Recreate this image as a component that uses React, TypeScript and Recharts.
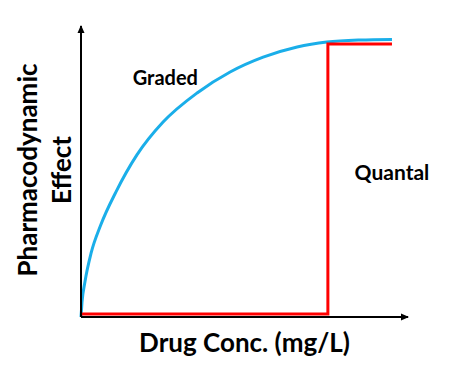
import { LineChart, Line, XAxis, YAxis, ReferenceDot } from "recharts";

// drug concentration (arbitrary units, 0-10) vs effect (% of max)
const gradedConc = [0, 0.03, 0.12, 0.31, 0.6, 1.07, 1.71, 2.51, 3.55, 4.56, 5.57, 6.61, 7.52, 8.53, 9.51];
const gradedEffect = [0, 5, 12, 22, 31.5, 43, 55.7, 67, 77, 84.2, 89.3, 92.8, 94.5, 95.2, 95.4];

const quantalConc = [0, 7.55, 7.55, 9.51];
const quantalEffect = [1, 1, 93.8, 93.8];

const xMax = 10;
const yMax = 100;

const gradedData = gradedConc.map((x, i) => ({ x, y: gradedEffect[i] }));
const quantalData = quantalConc.map((x, i) => ({ x, y: quantalEffect[i] }));

const FONT = "Lato, 'Open Sans', sans-serif";

function XLabel(props: any) {
  const { viewBox } = props;
  if (!viewBox) return null;
  return (
    <text
      x={viewBox.x + viewBox.width / 2}
      y={viewBox.y + 35}
      textAnchor="middle"
      fontFamily={FONT}
      fontWeight={700}
      fontSize={26}
      fill="#000"
    >
      Drug Conc. (mg/L)
    </text>
  );
}

function YLabel(props: any) {
  const { viewBox } = props;
  if (!viewBox) return null;
  const cy = viewBox.y + viewBox.height / 2 - 1.5;
  const x1 = viewBox.x + 29;
  const x2 = viewBox.x + 63;
  const common = {
    textAnchor: "middle" as const,
    fontFamily: FONT,
    fontWeight: 700,
    fontSize: 26,
    fill: "#000",
  };
  return (
    <g>
      <text x={x1} y={cy} transform={`rotate(-90, ${x1}, ${cy})`} {...common}>
        Pharmacodynamic
      </text>
      <text x={x2} y={cy} transform={`rotate(-90, ${x2}, ${cy})`} {...common}>
        Effect
      </text>
    </g>
  );
}

const arrowRight = (p: any) => (
  <path d={`M${p.cx + 1},${p.cy} L${p.cx - 7},${p.cy - 3.5} L${p.cx - 7},${p.cy + 3.5} Z`} fill="#000" />
);
const arrowUp = (p: any) => (
  <path d={`M${p.cx},${p.cy - 1} L${p.cx - 3.5},${p.cy + 7} L${p.cx + 3.5},${p.cy + 7} Z`} fill="#000" />
);

export default function App() {
  return (
    <div style={{ width: 441, height: 364 }}>
      <LineChart width={441} height={364} margin={{ top: 18, right: 41, left: 0, bottom: 0 }}>
        <XAxis
          type="number"
          dataKey="x"
          domain={[0, xMax]}
          tick={false}
          tickLine={false}
          height={55}
          axisLine={{ stroke: "#000", strokeWidth: 2 }}
          label={<XLabel />}
        />
        <YAxis
          type="number"
          dataKey="y"
          domain={[0, yMax]}
          tick={false}
          tickLine={false}
          width={73}
          axisLine={{ stroke: "#000", strokeWidth: 2 }}
          label={<YLabel />}
        />
        <Line
          data={gradedData}
          dataKey="y"
          type="monotone"
          stroke="#1aaee9"
          strokeWidth={3}
          dot={false}
          activeDot={false}
          isAnimationActive={false}
        />
        <Line
          data={quantalData}
          dataKey="y"
          type="linear"
          stroke="#ff0000"
          strokeWidth={3}
          dot={false}
          activeDot={false}
          isAnimationActive={false}
        />
        <ReferenceDot x={xMax} y={0} ifOverflow="visible" shape={arrowRight} />
        <ReferenceDot x={0} y={yMax} ifOverflow="visible" shape={arrowUp} />
        <ReferenceDot
          x={2.58}
          y={82}
          r={1}
          fill="none"
          stroke="none"
          ifOverflow="visible"
          label={{ value: "Graded", position: "center", fontFamily: FONT, fontWeight: 700, fontSize: 20, fill: "#000" }}
        />
        <ReferenceDot
          x={9.51}
          y={49.5}
          r={1}
          fill="none"
          stroke="none"
          ifOverflow="visible"
          label={{ value: "Quantal", position: "center", fontFamily: FONT, fontWeight: 700, fontSize: 21, fill: "#000" }}
        />
      </LineChart>
    </div>
  );
}
